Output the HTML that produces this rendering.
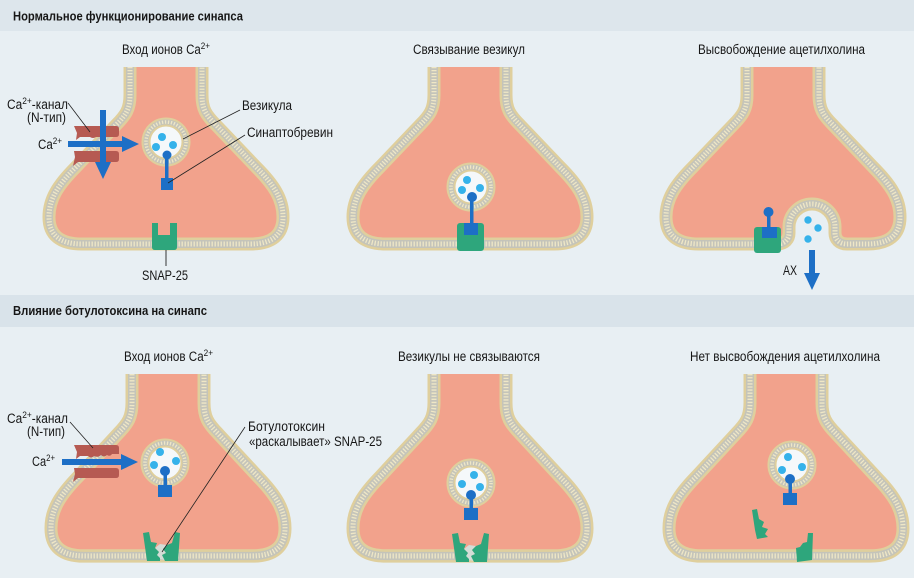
<!DOCTYPE html>
<html>
<head>
<meta charset="utf-8">
<style>
html,body{margin:0;padding:0;background:#e8eff3;}
svg{display:block;}
text{font-family:"Liberation Sans","DejaVu Sans",sans-serif;fill:#161616;}
</style>
</head>
<body>
<svg width="914" height="578" viewBox="0 0 914 578" xmlns="http://www.w3.org/2000/svg" xmlns:xlink="http://www.w3.org/1999/xlink">
<defs>
  <path id="m" d="M-36,0 L-36,28 C-36,42 -40,48 -50,58 L-90,100 C-108,118 -117,132 -117,150 C-117,168 -106,177 -84,177 L84,177 C106,177 117,168 117,150 C117,132 108,118 90,100 L50,58 C40,48 36,42 36,28 L36,0"/>
  <path id="m3" d="M-36,0 L-36,28 C-36,42 -40,48 -50,58 L-90,100 C-108,118 -117,132 -117,150 C-117,168 -106,177 -84,177 L-6,177 C2,177 6,172 6,166 L6,160 A23,23 0 0 1 52,160 L52,166 C52,172 56,177 64,177 L84,177 C106,177 117,168 117,150 C117,132 108,118 90,100 L50,58 C40,48 36,42 36,28 L36,0"/>
  <g id="mem">
    <use xlink:href="#m" fill="#f2a28c"/>
    <use xlink:href="#m" fill="none" stroke="#dfcf9d" stroke-width="13"/>
    <use xlink:href="#m" fill="none" stroke="#c4c4ba" stroke-width="8"/>
    <use xlink:href="#m" fill="none" stroke="#efe7c6" stroke-width="5" stroke-dasharray="1.3 1.7"/>
  </g>
  <g id="mem3">
    <use xlink:href="#m3" fill="#f2a28c"/>
    <use xlink:href="#m3" fill="none" stroke="#dfcf9d" stroke-width="13"/>
    <use xlink:href="#m3" fill="none" stroke="#c4c4ba" stroke-width="8"/>
    <use xlink:href="#m3" fill="none" stroke="#efe7c6" stroke-width="5" stroke-dasharray="1.3 1.7"/>
  </g>
  <g id="ves">
    <circle r="16" fill="#f5f8fa"/>
    <circle r="20" fill="none" stroke="#dfcf9d" stroke-width="9"/>
    <circle r="20" fill="none" stroke="#c4c4ba" stroke-width="5"/>
    <circle r="20" fill="none" stroke="#efe7c6" stroke-width="3.5" stroke-dasharray="1.3 1.7"/>
  </g>
</defs>

<!-- background -->
<rect width="914" height="578" fill="#e8eff3"/>
<rect x="0" y="0" width="914" height="31" fill="#dde6ec"/>
<rect x="0" y="295" width="914" height="32" fill="#d9e3ea"/>

<!-- membranes -->
<use xlink:href="#mem" transform="translate(166,67)"/>
<use xlink:href="#mem" transform="translate(470,67)"/>
<use xlink:href="#mem3" transform="translate(783,67)"/>
<use xlink:href="#mem" transform="translate(168,374) scale(1,1.028)"/>
<use xlink:href="#mem" transform="translate(470,374) scale(1,1.028)"/>
<use xlink:href="#mem" transform="translate(786,374) scale(1,1.028)"/>

<!-- ===== Panel 1 ===== -->
<path d="M74,126 L116,126 Q119,126 119,129 L119,134 Q119,137 116,137 L96,137 Q93,139 90,137 L80,137 L76,140 L77,133 Z" fill="#b65a52"/>
<path d="M74,151 L116,151 Q119,151 119,154 L119,159 Q119,162 116,162 L78,162 L73,166 L75,157 Z" fill="#b65a52"/>
<rect x="68" y="141" width="55" height="6" fill="#1d6fc6"/>
<polygon points="122,136 139,144 122,152" fill="#1d6fc6"/>
<rect x="100" y="110" width="6" height="53" fill="#1d6fc6"/>
<polygon points="95,162 103,179 111,162" fill="#1d6fc6"/>
<use xlink:href="#ves" x="166" y="142"/>
<circle cx="162" cy="137" r="4" fill="#35b2ea"/>
<circle cx="156" cy="147" r="4" fill="#35b2ea"/>
<circle cx="173" cy="145" r="4" fill="#35b2ea"/>
<rect x="165" y="154" width="3.5" height="26" fill="#1d6fc6"/>
<circle cx="167" cy="155" r="4.5" fill="#1d6fc6"/>
<rect x="161" y="178" width="12" height="12" fill="#1d6fc6"/>
<path d="M152,223 L158,223 L158,235 L170,235 L170,223 L177,223 L177,247 Q177,250 174,250 L155,250 Q152,250 152,247 Z" fill="#2ea67c"/>
<line x1="166" y1="250" x2="166" y2="266" stroke="#222" stroke-width="0.9"/>
<line x1="68" y1="103" x2="90" y2="132" stroke="#222" stroke-width="0.8"/>
<line x1="240" y1="110" x2="183" y2="139" stroke="#222" stroke-width="0.8"/>
<line x1="245" y1="135" x2="168" y2="183" stroke="#222" stroke-width="0.8"/>

<!-- ===== Panel 2 ===== -->
<use xlink:href="#ves" x="471" y="187"/>
<circle cx="467" cy="180" r="4" fill="#35b2ea"/>
<circle cx="462" cy="190" r="4" fill="#35b2ea"/>
<circle cx="480" cy="188" r="4" fill="#35b2ea"/>
<rect x="457" y="223" width="27" height="28" rx="3" fill="#2ea67c"/>
<rect x="470" y="197" width="3.5" height="28" fill="#1d6fc6"/>
<circle cx="472" cy="197" r="5" fill="#1d6fc6"/>
<rect x="464" y="223" width="14" height="12" fill="#1d6fc6"/>

<!-- ===== Panel 3 ===== -->
<circle cx="808" cy="220" r="3.7" fill="#35b2ea"/>
<circle cx="818" cy="228" r="3.7" fill="#35b2ea"/>
<circle cx="808" cy="239" r="3.7" fill="#35b2ea"/>
<rect x="754" y="227" width="27" height="26" rx="3" fill="#2ea67c"/>
<rect x="767" y="213" width="3.5" height="16" fill="#1d6fc6"/>
<circle cx="768.5" cy="212" r="5" fill="#1d6fc6"/>
<rect x="762" y="227" width="15" height="11" fill="#1d6fc6"/>
<rect x="809" y="250" width="6" height="24" fill="#1d6fc6"/>
<polygon points="804,273 812,290 820,273" fill="#1d6fc6"/>

<!-- ===== Panel 4 ===== -->
<path d="M74,445 L116,445 Q119,445 119,448 L119,454 L112,454 Q110,457 107,455 Q104,458 101,455 Q98,458 94,456 Q91,459 88,456 L80,456 L76,459 L77,452 Z" fill="#b65a52"/>
<path d="M74,468 L116,468 Q119,468 119,471 L119,475 Q119,478 116,478 L78,478 L73,482 L75,474 Z" fill="#b65a52"/>
<rect x="62" y="459" width="61" height="6" fill="#1d6fc6"/>
<polygon points="121,454 138,462 121,470" fill="#1d6fc6"/>
<use xlink:href="#ves" x="165" y="463"/>
<circle cx="160" cy="452" r="4" fill="#35b2ea"/>
<circle cx="154" cy="465" r="4" fill="#35b2ea"/>
<circle cx="176" cy="461" r="4" fill="#35b2ea"/>
<rect x="163.5" y="470" width="3.5" height="16" fill="#1d6fc6"/>
<circle cx="165" cy="471" r="5" fill="#1d6fc6"/>
<rect x="158" y="485" width="14" height="12" fill="#1d6fc6"/>
<polygon points="155,548 159,552 157,555 160,559 165,560 162,555 166,553 163,549 167,545 160,544" fill="#d4dcd6"/>
<polygon points="143,533 149,532 151,542 157,543 155,548 159,552 157,555 160,558 160,561 147,561" fill="#2ea67c"/>
<polygon points="175,532 180,533 178,561 165,561 162,555 166,553 163,549 167,545 172,543" fill="#2ea67c"/>
<line x1="245" y1="427" x2="162" y2="552" stroke="#222" stroke-width="0.8"/>
<line x1="70" y1="422" x2="93" y2="448" stroke="#222" stroke-width="0.8"/>

<!-- ===== Panel 5 ===== -->
<use xlink:href="#ves" x="471" y="483"/>
<circle cx="474" cy="475" r="4" fill="#35b2ea"/>
<circle cx="462" cy="484" r="4" fill="#35b2ea"/>
<circle cx="480" cy="487" r="4" fill="#35b2ea"/>
<rect x="469.5" y="495" width="3.5" height="15" fill="#1d6fc6"/>
<circle cx="471" cy="495" r="5" fill="#1d6fc6"/>
<rect x="464" y="508" width="14" height="12" fill="#1d6fc6"/>
<g transform="translate(309,1)">
<polygon points="155,548 159,552 157,555 160,559 165,560 162,555 166,553 163,549 167,545 160,544" fill="#d4dcd6"/>
<polygon points="143,533 149,532 151,542 157,543 155,548 159,552 157,555 160,558 160,561 147,561" fill="#2ea67c"/>
<polygon points="175,532 180,533 178,561 165,561 162,555 166,553 163,549 167,545 172,543" fill="#2ea67c"/>
</g>

<!-- ===== Panel 6 ===== -->
<use xlink:href="#ves" x="792" y="465"/>
<circle cx="788" cy="457" r="4" fill="#35b2ea"/>
<circle cx="782" cy="470" r="4" fill="#35b2ea"/>
<circle cx="802" cy="467" r="4" fill="#35b2ea"/>
<rect x="788.5" y="478" width="3.5" height="17" fill="#1d6fc6"/>
<circle cx="790" cy="479" r="5" fill="#1d6fc6"/>
<rect x="783" y="493" width="14" height="12" fill="#1d6fc6"/>
<polygon points="752,510 757,509 759,519 764,522 762,527 768,529 765,534 768,537 757,539 755,530" fill="#2ea67c"/>
<polygon points="808,533 813,533 812,560 797,562 796,548 800,547 803,543 807,542" fill="#2ea67c"/>

<!-- ===== Texts ===== -->
<text x="13" y="20.5" font-size="13" font-weight="bold" textLength="230" lengthAdjust="spacingAndGlyphs">Нормальное функционирование синапса</text>
<text x="13" y="315" font-size="13" font-weight="bold" textLength="194" lengthAdjust="spacingAndGlyphs">Влияние ботулотоксина на синапс</text>

<text x="122" y="54" font-size="13.5" textLength="88" lengthAdjust="spacingAndGlyphs">Вход ионов Ca<tspan font-size="9.5" dy="-5">2+</tspan></text>
<text x="413" y="54" font-size="13.5" textLength="112" lengthAdjust="spacingAndGlyphs">Связывание везикул</text>
<text x="698" y="54" font-size="13.5" textLength="167" lengthAdjust="spacingAndGlyphs">Высвобождение ацетилхолина</text>

<text x="7" y="109" font-size="13.5" textLength="61" lengthAdjust="spacingAndGlyphs">Ca<tspan font-size="9.5" dy="-5">2+</tspan><tspan dy="5">-канал</tspan></text>
<text x="27" y="122" font-size="13.5" textLength="39" lengthAdjust="spacingAndGlyphs">(N-тип)</text>
<text x="38" y="149" font-size="13.5" textLength="24" lengthAdjust="spacingAndGlyphs">Ca<tspan font-size="9.5" dy="-5">2+</tspan></text>
<text x="242" y="110" font-size="13.5" textLength="50" lengthAdjust="spacingAndGlyphs">Везикула</text>
<text x="247" y="137" font-size="13.5" textLength="86" lengthAdjust="spacingAndGlyphs">Синаптобревин</text>
<text x="142" y="280" font-size="13.5" textLength="46" lengthAdjust="spacingAndGlyphs">SNAP-25</text>
<text x="783" y="275" font-size="13.5" textLength="14" lengthAdjust="spacingAndGlyphs">АХ</text>

<text x="124" y="361" font-size="13.5" textLength="89" lengthAdjust="spacingAndGlyphs">Вход ионов Ca<tspan font-size="9.5" dy="-5">2+</tspan></text>
<text x="398" y="361" font-size="13.5" textLength="142" lengthAdjust="spacingAndGlyphs">Везикулы не связываются</text>
<text x="690" y="361" font-size="13.5" textLength="190" lengthAdjust="spacingAndGlyphs">Нет высвобождения ацетилхолина</text>

<text x="7" y="423" font-size="13.5" textLength="61" lengthAdjust="spacingAndGlyphs">Ca<tspan font-size="9.5" dy="-5">2+</tspan><tspan dy="5">-канал</tspan></text>
<text x="27" y="436" font-size="13.5" textLength="38" lengthAdjust="spacingAndGlyphs">(N-тип)</text>
<text x="32" y="466" font-size="13.5" textLength="23" lengthAdjust="spacingAndGlyphs">Ca<tspan font-size="9.5" dy="-5">2+</tspan></text>
<text x="248" y="431" font-size="13.5" textLength="77" lengthAdjust="spacingAndGlyphs">Ботулотоксин</text>
<text x="249" y="446" font-size="13.5" textLength="133" lengthAdjust="spacingAndGlyphs">«раскалывает» SNAP-25</text>
</svg>
</body>
</html>
